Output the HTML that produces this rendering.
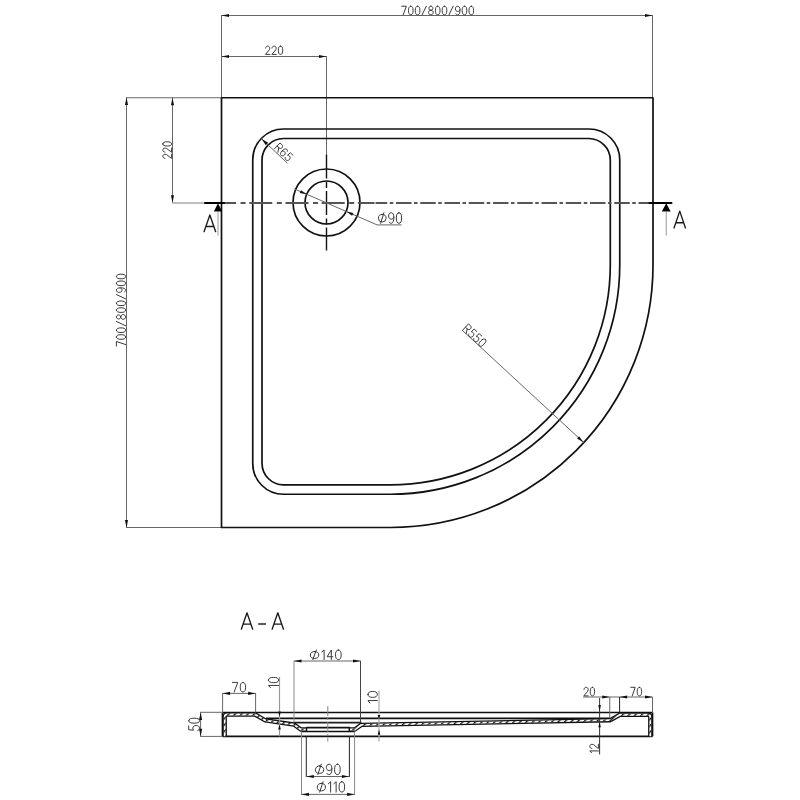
<!DOCTYPE html>
<html><head><meta charset="utf-8"><style>
html,body{margin:0;padding:0;background:#fff;width:800px;height:800px;overflow:hidden}
svg{display:block;will-change:transform}
text{font-family:"Liberation Sans",sans-serif}
</style></head><body>
<svg width="800" height="800" viewBox="0 0 800 800">
<rect width="800" height="800" fill="#fff"/>
<line x1="221.5" y1="15.5" x2="652.5" y2="15.5" stroke="#666" stroke-width="1.0" />
<path d="M221.50,15.50 L229.00,13.95 L229.00,17.05 Z" fill="#111"/>
<path d="M652.50,15.50 L645.00,17.05 L645.00,13.95 Z" fill="#111"/>
<line x1="221.5" y1="15" x2="221.5" y2="97.5" stroke="#666" stroke-width="1.0" />
<line x1="652.5" y1="15" x2="652.5" y2="97.5" stroke="#666" stroke-width="1.0" />
<g transform="translate(437.65,10.50) rotate(0.00) translate(-35.95,-4.30) scale(0.9436,0.8600)" fill="none" stroke="#3a3a3a" stroke-width="1.0" vector-effect="non-scaling-stroke" stroke-linecap="round" stroke-linejoin="round"><path vector-effect="non-scaling-stroke" transform="translate(0.00,0)" d="M0,0 H4.9 L1.6,10"/><path vector-effect="non-scaling-stroke" transform="translate(7.20,0)" d="M2.45,0 C4.2,0 4.9,1.9 4.9,5 C4.9,8.1 4.2,10 2.45,10 C0.7,10 0,8.1 0,5 C0,1.9 0.7,0 2.45,0 Z"/><path vector-effect="non-scaling-stroke" transform="translate(14.40,0)" d="M2.45,0 C4.2,0 4.9,1.9 4.9,5 C4.9,8.1 4.2,10 2.45,10 C0.7,10 0,8.1 0,5 C0,1.9 0.7,0 2.45,0 Z"/><path vector-effect="non-scaling-stroke" transform="translate(21.60,0)" d="M0,10 L4.5,0"/><path vector-effect="non-scaling-stroke" transform="translate(28.40,0)" d="M2.5,0 C3.7,0 4.6,1 4.6,2.4 C4.6,3.8 3.7,4.7 2.5,4.7 C1.3,4.7 0.4,3.8 0.4,2.4 C0.4,1 1.3,0 2.5,0 Z M2.5,4.7 C3.9,4.7 5,5.8 5,7.35 C5,8.9 3.9,10 2.5,10 C1.1,10 0,8.9 0,7.35 C0,5.8 1.1,4.7 2.5,4.7 Z"/><path vector-effect="non-scaling-stroke" transform="translate(35.70,0)" d="M2.45,0 C4.2,0 4.9,1.9 4.9,5 C4.9,8.1 4.2,10 2.45,10 C0.7,10 0,8.1 0,5 C0,1.9 0.7,0 2.45,0 Z"/><path vector-effect="non-scaling-stroke" transform="translate(42.90,0)" d="M2.45,0 C4.2,0 4.9,1.9 4.9,5 C4.9,8.1 4.2,10 2.45,10 C0.7,10 0,8.1 0,5 C0,1.9 0.7,0 2.45,0 Z"/><path vector-effect="non-scaling-stroke" transform="translate(50.10,0)" d="M0,10 L4.5,0"/><path vector-effect="non-scaling-stroke" transform="translate(56.90,0)" d="M0.5,8.9 C0.9,9.6 1.6,10 2.4,10 C4,10 4.9,7.8 4.9,4.6 C4.9,1.6 3.9,0 2.45,0 C1,0 0,1.3 0,3.1 C0,4.9 1,6.1 2.45,6.1 C3.7,6.1 4.6,5.3 4.9,4.1"/><path vector-effect="non-scaling-stroke" transform="translate(64.10,0)" d="M2.45,0 C4.2,0 4.9,1.9 4.9,5 C4.9,8.1 4.2,10 2.45,10 C0.7,10 0,8.1 0,5 C0,1.9 0.7,0 2.45,0 Z"/><path vector-effect="non-scaling-stroke" transform="translate(71.30,0)" d="M2.45,0 C4.2,0 4.9,1.9 4.9,5 C4.9,8.1 4.2,10 2.45,10 C0.7,10 0,8.1 0,5 C0,1.9 0.7,0 2.45,0 Z"/></g>
<line x1="221.5" y1="56.5" x2="326.5" y2="56.5" stroke="#666" stroke-width="1.0" />
<path d="M221.50,56.50 L229.00,54.95 L229.00,58.05 Z" fill="#111"/>
<path d="M326.50,56.50 L319.00,58.05 L319.00,54.95 Z" fill="#111"/>
<line x1="326.5" y1="56" x2="326.5" y2="154.5" stroke="#666" stroke-width="1.0" />
<g transform="translate(274.10,50.25) rotate(0.00) translate(-8.60,-4.15) scale(0.8912,0.8300)" fill="none" stroke="#3a3a3a" stroke-width="1.0" vector-effect="non-scaling-stroke" stroke-linecap="round" stroke-linejoin="round"><path vector-effect="non-scaling-stroke" transform="translate(0.00,0)" d="M0.1,2.4 C0.3,0.9 1.2,0 2.45,0 C3.8,0 4.8,1 4.8,2.6 C4.8,3.9 4.1,4.9 3.2,5.9 L0,10 H4.9"/><path vector-effect="non-scaling-stroke" transform="translate(7.20,0)" d="M0.1,2.4 C0.3,0.9 1.2,0 2.45,0 C3.8,0 4.8,1 4.8,2.6 C4.8,3.9 4.1,4.9 3.2,5.9 L0,10 H4.9"/><path vector-effect="non-scaling-stroke" transform="translate(14.40,0)" d="M2.45,0 C4.2,0 4.9,1.9 4.9,5 C4.9,8.1 4.2,10 2.45,10 C0.7,10 0,8.1 0,5 C0,1.9 0.7,0 2.45,0 Z"/></g>
<line x1="126.5" y1="97.5" x2="126.5" y2="527.5" stroke="#666" stroke-width="1.0" />
<path d="M126.50,97.50 L128.05,105.00 L124.95,105.00 Z" fill="#111"/>
<path d="M126.50,527.50 L124.95,520.00 L128.05,520.00 Z" fill="#111"/>
<line x1="126" y1="97.75" x2="221.5" y2="97.75" stroke="#666" stroke-width="1.0" />
<line x1="126" y1="527.5" x2="221.5" y2="527.5" stroke="#666" stroke-width="1.0" />
<g transform="translate(121.00,310.15) rotate(-90.00) translate(-35.95,-4.60) scale(0.9436,0.9200)" fill="none" stroke="#3a3a3a" stroke-width="1.0" vector-effect="non-scaling-stroke" stroke-linecap="round" stroke-linejoin="round"><path vector-effect="non-scaling-stroke" transform="translate(0.00,0)" d="M0,0 H4.9 L1.6,10"/><path vector-effect="non-scaling-stroke" transform="translate(7.20,0)" d="M2.45,0 C4.2,0 4.9,1.9 4.9,5 C4.9,8.1 4.2,10 2.45,10 C0.7,10 0,8.1 0,5 C0,1.9 0.7,0 2.45,0 Z"/><path vector-effect="non-scaling-stroke" transform="translate(14.40,0)" d="M2.45,0 C4.2,0 4.9,1.9 4.9,5 C4.9,8.1 4.2,10 2.45,10 C0.7,10 0,8.1 0,5 C0,1.9 0.7,0 2.45,0 Z"/><path vector-effect="non-scaling-stroke" transform="translate(21.60,0)" d="M0,10 L4.5,0"/><path vector-effect="non-scaling-stroke" transform="translate(28.40,0)" d="M2.5,0 C3.7,0 4.6,1 4.6,2.4 C4.6,3.8 3.7,4.7 2.5,4.7 C1.3,4.7 0.4,3.8 0.4,2.4 C0.4,1 1.3,0 2.5,0 Z M2.5,4.7 C3.9,4.7 5,5.8 5,7.35 C5,8.9 3.9,10 2.5,10 C1.1,10 0,8.9 0,7.35 C0,5.8 1.1,4.7 2.5,4.7 Z"/><path vector-effect="non-scaling-stroke" transform="translate(35.70,0)" d="M2.45,0 C4.2,0 4.9,1.9 4.9,5 C4.9,8.1 4.2,10 2.45,10 C0.7,10 0,8.1 0,5 C0,1.9 0.7,0 2.45,0 Z"/><path vector-effect="non-scaling-stroke" transform="translate(42.90,0)" d="M2.45,0 C4.2,0 4.9,1.9 4.9,5 C4.9,8.1 4.2,10 2.45,10 C0.7,10 0,8.1 0,5 C0,1.9 0.7,0 2.45,0 Z"/><path vector-effect="non-scaling-stroke" transform="translate(50.10,0)" d="M0,10 L4.5,0"/><path vector-effect="non-scaling-stroke" transform="translate(56.90,0)" d="M0.5,8.9 C0.9,9.6 1.6,10 2.4,10 C4,10 4.9,7.8 4.9,4.6 C4.9,1.6 3.9,0 2.45,0 C1,0 0,1.3 0,3.1 C0,4.9 1,6.1 2.45,6.1 C3.7,6.1 4.6,5.3 4.9,4.1"/><path vector-effect="non-scaling-stroke" transform="translate(64.10,0)" d="M2.45,0 C4.2,0 4.9,1.9 4.9,5 C4.9,8.1 4.2,10 2.45,10 C0.7,10 0,8.1 0,5 C0,1.9 0.7,0 2.45,0 Z"/><path vector-effect="non-scaling-stroke" transform="translate(71.30,0)" d="M2.45,0 C4.2,0 4.9,1.9 4.9,5 C4.9,8.1 4.2,10 2.45,10 C0.7,10 0,8.1 0,5 C0,1.9 0.7,0 2.45,0 Z"/></g>
<line x1="172.5" y1="97.75" x2="172.5" y2="202.75" stroke="#666" stroke-width="1.0" />
<path d="M172.50,97.75 L174.05,105.25 L170.95,105.25 Z" fill="#111"/>
<path d="M172.50,202.75 L170.95,195.25 L174.05,195.25 Z" fill="#111"/>
<line x1="172" y1="203" x2="205" y2="203" stroke="#aaa" stroke-width="1.6" />
<g transform="translate(167.20,150.10) rotate(-90.00) translate(-8.30,-4.40) scale(0.8601,0.8800)" fill="none" stroke="#3a3a3a" stroke-width="1.0" vector-effect="non-scaling-stroke" stroke-linecap="round" stroke-linejoin="round"><path vector-effect="non-scaling-stroke" transform="translate(0.00,0)" d="M0.1,2.4 C0.3,0.9 1.2,0 2.45,0 C3.8,0 4.8,1 4.8,2.6 C4.8,3.9 4.1,4.9 3.2,5.9 L0,10 H4.9"/><path vector-effect="non-scaling-stroke" transform="translate(7.20,0)" d="M0.1,2.4 C0.3,0.9 1.2,0 2.45,0 C3.8,0 4.8,1 4.8,2.6 C4.8,3.9 4.1,4.9 3.2,5.9 L0,10 H4.9"/><path vector-effect="non-scaling-stroke" transform="translate(14.40,0)" d="M2.45,0 C4.2,0 4.9,1.9 4.9,5 C4.9,8.1 4.2,10 2.45,10 C0.7,10 0,8.1 0,5 C0,1.9 0.7,0 2.45,0 Z"/></g>
<path d="M221.5,97.75 H653 V265 A262.5,262.5 0 0 1 390.5,527.5 H221.5 Z" fill="none" stroke="#111" stroke-width="1.7" stroke-linejoin="round"/>
<path d="M283.5,129.0 H589 A30.75,30.75 0 0 1 619.75,159.75 V265 A229.25,229.25 0 0 1 390.5,494.25 H283.5 A30.75,30.75 0 0 1 252.75,463.5 V159.75 A30.75,30.75 0 0 1 283.5,129.0 Z" fill="none" stroke="#111" stroke-width="1.7" />
<path d="M283.5,138.5 H588.8 A21.5,21.5 0 0 1 610.3,160 V265 A219.8,219.8 0 0 1 390.5,484.8 H283.5 A21.5,21.5 0 0 1 262,463.3 V160 A21.5,21.5 0 0 1 283.5,138.5 Z" fill="none" stroke="#111" stroke-width="1.7" />
<circle cx="326.5" cy="202.5" r="33.5" fill="none" stroke="#111" stroke-width="1.7"/>
<circle cx="326.5" cy="202.5" r="21.5" fill="none" stroke="#111" stroke-width="1.7"/>
<line x1="326.5" y1="154.4" x2="326.5" y2="250.6" stroke="#111" stroke-width="1.4" stroke-dasharray="24 3.5 6 3"/>
<line x1="224" y1="203" x2="374.5" y2="203" stroke="#555" stroke-width="1.9" stroke-dasharray="23 4.5 5 3.7" stroke-dashoffset="-25.3"/>
<line x1="375.5" y1="203" x2="649.5" y2="203" stroke="#555" stroke-width="1.9" stroke-dasharray="15.5 2.5 3.5 2.75" stroke-dashoffset="3.75"/>
<line x1="205" y1="203" x2="224" y2="203" stroke="#000" stroke-width="2.0" stroke-linecap="round"/>
<line x1="649.5" y1="203" x2="671.5" y2="203" stroke="#000" stroke-width="2.0" stroke-linecap="round"/>
<path d="M218.00,203.20 L222.10,211.50 L213.90,211.50 Z" fill="#000"/>
<line x1="218" y1="211.5" x2="218" y2="235.6" stroke="#999" stroke-width="1" />
<path d="M666.25,203.20 L670.65,211.50 L661.85,211.50 Z" fill="#000"/>
<line x1="666.25" y1="211.5" x2="666.25" y2="235.6" stroke="#999" stroke-width="1" />
<g transform="translate(209.85,223.30) rotate(0.00) translate(-5.81,-8.36) scale(1.5703,1.6720)" fill="none" stroke="#1a1a1a" stroke-width="1.35" vector-effect="non-scaling-stroke" stroke-linecap="round" stroke-linejoin="round"><path vector-effect="non-scaling-stroke" transform="translate(0.00,0)" d="M0,10 L3.7,0 L7.4,10 M1.15,6.9 H6.25"/></g>
<g transform="translate(679.75,219.55) rotate(0.00) translate(-5.71,-8.41) scale(1.5432,1.6820)" fill="none" stroke="#1a1a1a" stroke-width="1.35" vector-effect="non-scaling-stroke" stroke-linecap="round" stroke-linejoin="round"><path vector-effect="non-scaling-stroke" transform="translate(0.00,0)" d="M0,10 L3.7,0 L7.4,10 M1.15,6.9 H6.25"/></g>
<line x1="261.5" y1="138.75" x2="287.5" y2="163.25" stroke="#666" stroke-width="1.0" />
<path d="M261.50,138.75 L268.12,142.66 L265.79,145.13 Z" fill="#111"/>
<g transform="translate(283.80,152.20) rotate(43.30) translate(-9.10,-4.10) scale(0.9286,0.8200)" fill="none" stroke="#3a3a3a" stroke-width="1.0" vector-effect="non-scaling-stroke" stroke-linecap="round" stroke-linejoin="round"><path vector-effect="non-scaling-stroke" transform="translate(0.00,0)" d="M0,10 V0 H2.8 C4.2,0 5.1,1 5.1,2.6 C5.1,4.2 4.2,5.2 2.8,5.2 H0 M2.6,5.2 L5.2,10"/><path vector-effect="non-scaling-stroke" transform="translate(7.50,0)" d="M4.4,1.1 C4,0.4 3.3,0 2.5,0 C0.9,0 0,2.2 0,5.4 C0,8.4 1,10 2.45,10 C3.9,10 4.9,8.7 4.9,6.9 C4.9,5.1 3.9,3.9 2.45,3.9 C1.2,3.9 0.3,4.7 0,5.9"/><path vector-effect="non-scaling-stroke" transform="translate(14.70,0)" d="M4.5,0 H0.7 L0.3,4.5 C0.9,4 1.6,3.8 2.4,3.8 C3.9,3.8 4.9,5 4.9,6.9 C4.9,8.8 3.9,10 2.45,10 C1.3,10 0.4,9.4 0,8.4"/></g>
<line x1="294.4" y1="188.9" x2="377.1" y2="224.9" stroke="#666" stroke-width="1.0" />
<line x1="377.1" y1="224.9" x2="401.6" y2="224.9" stroke="#666" stroke-width="1.0" />
<path d="M306.80,194.30 L299.78,192.88 L300.98,190.13 Z" fill="#111"/>
<path d="M346.30,211.50 L353.32,212.92 L352.12,215.67 Z" fill="#111"/>
<g transform="translate(390.00,218.00) rotate(0.00) translate(-11.60,-5.30) scale(1.0741,1.0600)" fill="none" stroke="#3a3a3a" stroke-width="1.0" vector-effect="non-scaling-stroke" stroke-linecap="round" stroke-linejoin="round"><path vector-effect="non-scaling-stroke" transform="translate(0.00,0)" d="M3.6,1.6 A3.6,3.6 0 1 1 3.6,8.8 A3.6,3.6 0 1 1 3.6,1.6 Z M2.1,10 L5.1,0"/><path vector-effect="non-scaling-stroke" transform="translate(9.50,0)" d="M0.5,8.9 C0.9,9.6 1.6,10 2.4,10 C4,10 4.9,7.8 4.9,4.6 C4.9,1.6 3.9,0 2.45,0 C1,0 0,1.3 0,3.1 C0,4.9 1,6.1 2.45,6.1 C3.7,6.1 4.6,5.3 4.9,4.1"/><path vector-effect="non-scaling-stroke" transform="translate(16.70,0)" d="M2.45,0 C4.2,0 4.9,1.9 4.9,5 C4.9,8.1 4.2,10 2.45,10 C0.7,10 0,8.1 0,5 C0,1.9 0.7,0 2.45,0 Z"/></g>
<line x1="462" y1="330" x2="583.6" y2="442.4" stroke="#666" stroke-width="1.0" />
<path d="M583.60,442.40 L577.08,438.41 L579.11,436.21 Z" fill="#111"/>
<g transform="translate(474.80,335.60) rotate(42.60) translate(-12.60,-4.35) scale(0.9403,0.8700)" fill="none" stroke="#3a3a3a" stroke-width="1.0" vector-effect="non-scaling-stroke" stroke-linecap="round" stroke-linejoin="round"><path vector-effect="non-scaling-stroke" transform="translate(0.00,0)" d="M0,10 V0 H2.8 C4.2,0 5.1,1 5.1,2.6 C5.1,4.2 4.2,5.2 2.8,5.2 H0 M2.6,5.2 L5.2,10"/><path vector-effect="non-scaling-stroke" transform="translate(7.50,0)" d="M4.5,0 H0.7 L0.3,4.5 C0.9,4 1.6,3.8 2.4,3.8 C3.9,3.8 4.9,5 4.9,6.9 C4.9,8.8 3.9,10 2.45,10 C1.3,10 0.4,9.4 0,8.4"/><path vector-effect="non-scaling-stroke" transform="translate(14.70,0)" d="M4.5,0 H0.7 L0.3,4.5 C0.9,4 1.6,3.8 2.4,3.8 C3.9,3.8 4.9,5 4.9,6.9 C4.9,8.8 3.9,10 2.45,10 C1.3,10 0.4,9.4 0,8.4"/><path vector-effect="non-scaling-stroke" transform="translate(21.90,0)" d="M2.45,0 C4.2,0 4.9,1.9 4.9,5 C4.9,8.1 4.2,10 2.45,10 C0.7,10 0,8.1 0,5 C0,1.9 0.7,0 2.45,0 Z"/></g>
<g transform="translate(247.00,621.00) rotate(0.00) translate(-5.66,-8.16) scale(1.5297,1.6320)" fill="none" stroke="#1a1a1a" stroke-width="1.35" vector-effect="non-scaling-stroke" stroke-linecap="round" stroke-linejoin="round"><path vector-effect="non-scaling-stroke" transform="translate(0.00,0)" d="M0,10 L3.7,0 L7.4,10 M1.15,6.9 H6.25"/></g>
<line x1="258.2" y1="624" x2="266" y2="624" stroke="#222" stroke-width="1.5" />
<g transform="translate(277.80,621.00) rotate(0.00) translate(-5.66,-8.16) scale(1.5297,1.6320)" fill="none" stroke="#1a1a1a" stroke-width="1.35" vector-effect="non-scaling-stroke" stroke-linecap="round" stroke-linejoin="round"><path vector-effect="non-scaling-stroke" transform="translate(0.00,0)" d="M0,10 L3.7,0 L7.4,10 M1.15,6.9 H6.25"/></g>
<line x1="222.5" y1="712.5" x2="652.5" y2="712.5" stroke="#111" stroke-width="1.7" />
<line x1="222.5" y1="736.3" x2="652.5" y2="736.3" stroke="#111" stroke-width="1.7" />
<line x1="222.5" y1="712.5" x2="222.5" y2="736.3" stroke="#111" stroke-width="1.7" />
<line x1="652.5" y1="712.5" x2="652.5" y2="736.3" stroke="#111" stroke-width="1.7" />
<line x1="266" y1="718.3" x2="610" y2="718.3" stroke="#111" stroke-width="1.7" />
<line x1="293.7" y1="722.7" x2="361.5" y2="722.7" stroke="#222" stroke-width="1.8" />
<line x1="306.4" y1="727.6" x2="349.8" y2="727.6" stroke="#111" stroke-width="1.7" />
<line x1="300.7" y1="731.5" x2="354.6" y2="731.5" stroke="#111" stroke-width="1.7" />
<path d="M224.7,736.3 V717 Q224.7,714.5 227.2,714.5 H255 L265.3,720.4 L294,724.5 L300.8,729.5 H306.5 M349.3,729.5 H354.8 L361.2,724.9 L610.3,720.2 L620,714.75 H648 Q650.3,714.75 650.3,717 V736.3" fill="none" stroke="#111" stroke-width="4.4" stroke-linejoin="round"/>
<path d="M224.7,736.3 V717 Q224.7,714.5 227.2,714.5 H255 L265.3,720.4 L294,724.5 L300.8,729.5 H306.5 M349.3,729.5 H354.8 L361.2,724.9 L610.3,720.2 L620,714.75 H648 Q650.3,714.75 650.3,717 V736.3" fill="none" stroke="#fff" stroke-width="1.8" />
<defs><pattern id="hatch" patternUnits="userSpaceOnUse" width="4.5" height="10" patternTransform="rotate(45)"><rect x="0" y="0" width="1.4" height="10" fill="#111"/></pattern></defs>
<path d="M224.7,736.3 V717 Q224.7,714.5 227.2,714.5 H255 L265.3,720.4 L294,724.5 L300.8,729.5 H306.5 M349.3,729.5 H354.8 L361.2,724.9 L610.3,720.2 L620,714.75 H648 Q650.3,714.75 650.3,717 V736.3" fill="none" stroke="url(#hatch)" stroke-width="1.9" />
<line x1="306.5" y1="727.4" x2="306.5" y2="731.6" stroke="#111" stroke-width="1.5" />
<line x1="349.3" y1="727.4" x2="349.3" y2="731.6" stroke="#111" stroke-width="1.5" />
<line x1="200.6" y1="712.3" x2="200.6" y2="736.4" stroke="#666" stroke-width="1.0" />
<line x1="200" y1="712.3" x2="222.5" y2="712.3" stroke="#666" stroke-width="1.0" />
<line x1="200" y1="736.4" x2="222.5" y2="736.4" stroke="#666" stroke-width="1.0" />
<path d="M200.60,712.50 L202.15,720.00 L199.05,720.00 Z" fill="#111"/>
<path d="M200.60,736.30 L199.05,728.80 L202.15,728.80 Z" fill="#111"/>
<g transform="translate(194.10,724.35) rotate(-90.00) translate(-6.15,-5.40) scale(1.0165,1.0800)" fill="none" stroke="#3a3a3a" stroke-width="1.0" vector-effect="non-scaling-stroke" stroke-linecap="round" stroke-linejoin="round"><path vector-effect="non-scaling-stroke" transform="translate(0.00,0)" d="M4.5,0 H0.7 L0.3,4.5 C0.9,4 1.6,3.8 2.4,3.8 C3.9,3.8 4.9,5 4.9,6.9 C4.9,8.8 3.9,10 2.45,10 C1.3,10 0.4,9.4 0,8.4"/><path vector-effect="non-scaling-stroke" transform="translate(7.20,0)" d="M2.45,0 C4.2,0 4.9,1.9 4.9,5 C4.9,8.1 4.2,10 2.45,10 C0.7,10 0,8.1 0,5 C0,1.9 0.7,0 2.45,0 Z"/></g>
<line x1="222.6" y1="693.4" x2="255.6" y2="693.4" stroke="#666" stroke-width="1.0" />
<line x1="222.6" y1="693" x2="222.6" y2="712.5" stroke="#666" stroke-width="1.0" />
<line x1="255.6" y1="693" x2="255.6" y2="712.5" stroke="#666" stroke-width="1.0" />
<path d="M222.60,693.40 L230.10,691.85 L230.10,694.95 Z" fill="#111"/>
<path d="M255.60,693.40 L248.10,694.95 L248.10,691.85 Z" fill="#111"/>
<g transform="translate(239.00,687.20) rotate(0.00) translate(-6.60,-4.80) scale(1.0909,0.9600)" fill="none" stroke="#3a3a3a" stroke-width="1.0" vector-effect="non-scaling-stroke" stroke-linecap="round" stroke-linejoin="round"><path vector-effect="non-scaling-stroke" transform="translate(0.00,0)" d="M0,0 H4.9 L1.6,10"/><path vector-effect="non-scaling-stroke" transform="translate(7.20,0)" d="M2.45,0 C4.2,0 4.9,1.9 4.9,5 C4.9,8.1 4.2,10 2.45,10 C0.7,10 0,8.1 0,5 C0,1.9 0.7,0 2.45,0 Z"/></g>
<line x1="279.5" y1="677" x2="279.5" y2="736.3" stroke="#999" stroke-width="1.2" />
<path d="M279.50,716.80 L278.20,711.50 L280.80,711.50 Z" fill="#111"/>
<path d="M279.50,724.30 L280.80,729.60 L278.20,729.60 Z" fill="#111"/>
<g transform="translate(273.50,682.50) rotate(-90.00) translate(-5.10,-5.10) scale(1.0737,1.0200)" fill="none" stroke="#3a3a3a" stroke-width="1.0" vector-effect="non-scaling-stroke" stroke-linecap="round" stroke-linejoin="round"><path vector-effect="non-scaling-stroke" transform="translate(0.00,0)" d="M0,2.0 L2.0,0 V10"/><path vector-effect="non-scaling-stroke" transform="translate(4.60,0)" d="M2.45,0 C4.2,0 4.9,1.9 4.9,5 C4.9,8.1 4.2,10 2.45,10 C0.7,10 0,8.1 0,5 C0,1.9 0.7,0 2.45,0 Z"/></g>
<line x1="294" y1="661" x2="361" y2="661" stroke="#666" stroke-width="1.0" />
<line x1="294" y1="661" x2="294" y2="722.5" stroke="#888" stroke-width="1.0" />
<line x1="360.5" y1="661" x2="360.5" y2="722.5" stroke="#444" stroke-width="1.0" />
<path d="M294.00,661.00 L301.50,659.45 L301.50,662.55 Z" fill="#111"/>
<path d="M360.50,661.00 L353.00,662.55 L353.00,659.45 Z" fill="#111"/>
<g transform="translate(325.80,654.80) rotate(0.00) translate(-15.40,-4.80) scale(1.1623,0.9600)" fill="none" stroke="#3a3a3a" stroke-width="1.0" vector-effect="non-scaling-stroke" stroke-linecap="round" stroke-linejoin="round"><path vector-effect="non-scaling-stroke" transform="translate(0.00,0)" d="M3.6,1.6 A3.6,3.6 0 1 1 3.6,8.8 A3.6,3.6 0 1 1 3.6,1.6 Z M2.1,10 L5.1,0"/><path vector-effect="non-scaling-stroke" transform="translate(9.80,0)" d="M0,2.0 L2.0,0 V10"/><path vector-effect="non-scaling-stroke" transform="translate(14.40,0)" d="M3.6,10 V0 L0,7 H4.9"/><path vector-effect="non-scaling-stroke" transform="translate(21.60,0)" d="M2.45,0 C4.2,0 4.9,1.9 4.9,5 C4.9,8.1 4.2,10 2.45,10 C0.7,10 0,8.1 0,5 C0,1.9 0.7,0 2.45,0 Z"/></g>
<line x1="327.8" y1="706" x2="327.8" y2="741.5" stroke="#888" stroke-width="1" stroke-dasharray="10 2 2 2"/>
<line x1="379" y1="690.4" x2="379" y2="741.6" stroke="#aaa" stroke-width="1.2" />
<path d="M379.00,719.60 L377.70,715.10 L380.30,715.10 Z" fill="#111"/>
<path d="M379.00,729.50 L380.30,734.80 L377.70,734.80 Z" fill="#111"/>
<g transform="translate(372.65,697.20) rotate(-90.00) translate(-5.80,-4.65) scale(1.2211,0.9300)" fill="none" stroke="#3a3a3a" stroke-width="1.0" vector-effect="non-scaling-stroke" stroke-linecap="round" stroke-linejoin="round"><path vector-effect="non-scaling-stroke" transform="translate(0.00,0)" d="M0,2.0 L2.0,0 V10"/><path vector-effect="non-scaling-stroke" transform="translate(4.60,0)" d="M2.45,0 C4.2,0 4.9,1.9 4.9,5 C4.9,8.1 4.2,10 2.45,10 C0.7,10 0,8.1 0,5 C0,1.9 0.7,0 2.45,0 Z"/></g>
<line x1="306.3" y1="736.3" x2="306.3" y2="777" stroke="#222" stroke-width="1.0" />
<line x1="349.4" y1="736.3" x2="349.4" y2="777" stroke="#222" stroke-width="1.0" />
<line x1="306.3" y1="776.5" x2="349.4" y2="776.5" stroke="#666" stroke-width="1.0" />
<path d="M306.30,776.50 L313.80,774.95 L313.80,778.05 Z" fill="#111"/>
<path d="M349.40,776.50 L341.90,778.05 L341.90,774.95 Z" fill="#111"/>
<g transform="translate(327.80,769.40) rotate(0.00) translate(-12.40,-5.20) scale(1.1481,1.0400)" fill="none" stroke="#3a3a3a" stroke-width="1.0" vector-effect="non-scaling-stroke" stroke-linecap="round" stroke-linejoin="round"><path vector-effect="non-scaling-stroke" transform="translate(0.00,0)" d="M3.6,1.6 A3.6,3.6 0 1 1 3.6,8.8 A3.6,3.6 0 1 1 3.6,1.6 Z M2.1,10 L5.1,0"/><path vector-effect="non-scaling-stroke" transform="translate(9.50,0)" d="M0.5,8.9 C0.9,9.6 1.6,10 2.4,10 C4,10 4.9,7.8 4.9,4.6 C4.9,1.6 3.9,0 2.45,0 C1,0 0,1.3 0,3.1 C0,4.9 1,6.1 2.45,6.1 C3.7,6.1 4.6,5.3 4.9,4.1"/><path vector-effect="non-scaling-stroke" transform="translate(16.70,0)" d="M2.45,0 C4.2,0 4.9,1.9 4.9,5 C4.9,8.1 4.2,10 2.45,10 C0.7,10 0,8.1 0,5 C0,1.9 0.7,0 2.45,0 Z"/></g>
<line x1="301.5" y1="731.5" x2="301.5" y2="795" stroke="#888" stroke-width="1.0" />
<line x1="354.6" y1="731.5" x2="354.6" y2="795" stroke="#888" stroke-width="1.0" />
<line x1="301.5" y1="794.4" x2="354.6" y2="794.4" stroke="#666" stroke-width="1.0" />
<path d="M301.50,794.40 L309.00,792.85 L309.00,795.95 Z" fill="#111"/>
<path d="M354.60,794.40 L347.10,795.95 L347.10,792.85 Z" fill="#111"/>
<g transform="translate(330.95,786.90) rotate(0.00) translate(-13.65,-5.20) scale(1.1281,1.0400)" fill="none" stroke="#3a3a3a" stroke-width="1.0" vector-effect="non-scaling-stroke" stroke-linecap="round" stroke-linejoin="round"><path vector-effect="non-scaling-stroke" transform="translate(0.00,0)" d="M3.6,1.6 A3.6,3.6 0 1 1 3.6,8.8 A3.6,3.6 0 1 1 3.6,1.6 Z M2.1,10 L5.1,0"/><path vector-effect="non-scaling-stroke" transform="translate(9.80,0)" d="M0,2.0 L2.0,0 V10"/><path vector-effect="non-scaling-stroke" transform="translate(14.70,0)" d="M0,2.0 L2.0,0 V10"/><path vector-effect="non-scaling-stroke" transform="translate(19.30,0)" d="M2.45,0 C4.2,0 4.9,1.9 4.9,5 C4.9,8.1 4.2,10 2.45,10 C0.7,10 0,8.1 0,5 C0,1.9 0.7,0 2.45,0 Z"/></g>
<line x1="583" y1="697" x2="652.5" y2="697" stroke="#666" stroke-width="1.0" />
<line x1="609.75" y1="697" x2="609.75" y2="718.3" stroke="#666" stroke-width="1.0" />
<line x1="619.6" y1="697" x2="619.6" y2="712.5" stroke="#222" stroke-width="1.0" />
<line x1="652.5" y1="697" x2="652.5" y2="712.5" stroke="#666" stroke-width="1.0" />
<path d="M609.75,697.00 L602.25,698.55 L602.25,695.45 Z" fill="#111"/>
<path d="M619.60,697.00 L627.10,695.45 L627.10,698.55 Z" fill="#111"/>
<path d="M652.50,697.00 L645.00,698.55 L645.00,695.45 Z" fill="#111"/>
<g transform="translate(589.25,691.60) rotate(0.00) translate(-5.35,-4.30) scale(0.8843,0.8600)" fill="none" stroke="#3a3a3a" stroke-width="1.0" vector-effect="non-scaling-stroke" stroke-linecap="round" stroke-linejoin="round"><path vector-effect="non-scaling-stroke" transform="translate(0.00,0)" d="M0.1,2.4 C0.3,0.9 1.2,0 2.45,0 C3.8,0 4.8,1 4.8,2.6 C4.8,3.9 4.1,4.9 3.2,5.9 L0,10 H4.9"/><path vector-effect="non-scaling-stroke" transform="translate(7.20,0)" d="M2.45,0 C4.2,0 4.9,1.9 4.9,5 C4.9,8.1 4.2,10 2.45,10 C0.7,10 0,8.1 0,5 C0,1.9 0.7,0 2.45,0 Z"/></g>
<g transform="translate(636.20,691.60) rotate(0.00) translate(-5.40,-4.30) scale(0.8926,0.8600)" fill="none" stroke="#3a3a3a" stroke-width="1.0" vector-effect="non-scaling-stroke" stroke-linecap="round" stroke-linejoin="round"><path vector-effect="non-scaling-stroke" transform="translate(0.00,0)" d="M0,0 H4.9 L1.6,10"/><path vector-effect="non-scaling-stroke" transform="translate(7.20,0)" d="M2.45,0 C4.2,0 4.9,1.9 4.9,5 C4.9,8.1 4.2,10 2.45,10 C0.7,10 0,8.1 0,5 C0,1.9 0.7,0 2.45,0 Z"/></g>
<line x1="599.6" y1="698" x2="599.6" y2="754.4" stroke="#333" stroke-width="1.0" />
<path d="M599.60,711.60 L598.30,705.10 L600.90,705.10 Z" fill="#111"/>
<path d="M599.60,722.30 L600.90,727.30 L598.30,727.30 Z" fill="#111"/>
<g transform="translate(594.10,748.45) rotate(-90.00) translate(-4.25,-4.30) scale(0.8947,0.8600)" fill="none" stroke="#3a3a3a" stroke-width="1.0" vector-effect="non-scaling-stroke" stroke-linecap="round" stroke-linejoin="round"><path vector-effect="non-scaling-stroke" transform="translate(0.00,0)" d="M0,2.0 L2.0,0 V10"/><path vector-effect="non-scaling-stroke" transform="translate(4.60,0)" d="M0.1,2.4 C0.3,0.9 1.2,0 2.45,0 C3.8,0 4.8,1 4.8,2.6 C4.8,3.9 4.1,4.9 3.2,5.9 L0,10 H4.9"/></g>
</svg>
</body></html>
